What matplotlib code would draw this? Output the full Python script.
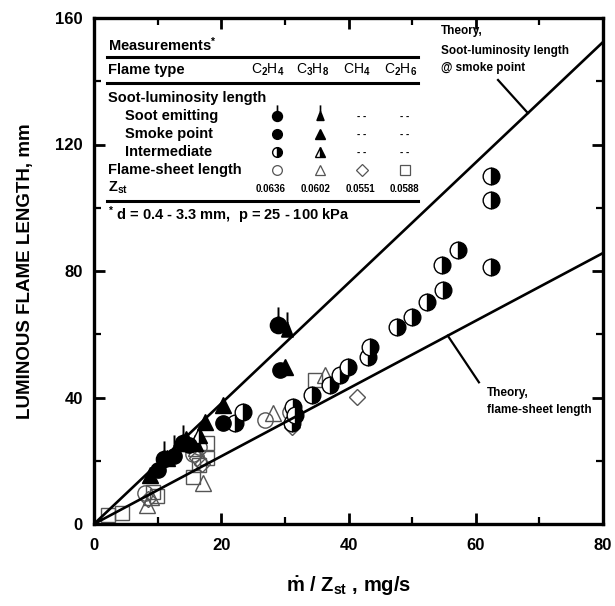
import numpy as np
import matplotlib
matplotlib.use('Agg')
import matplotlib.pyplot as plt
from matplotlib.path import Path
from matplotlib.ticker import MultipleLocator

plt.rcParams['font.family'] = ['Liberation Sans', 'DejaVu Sans']
plt.rcParams['font.weight'] = 'bold'
plt.rcParams['mathtext.fontset'] = 'custom'
plt.rcParams['mathtext.rm'] = 'Liberation Sans:bold'
plt.rcParams['mathtext.it'] = 'Liberation Sans:bold'
plt.rcParams['mathtext.bf'] = 'Liberation Sans:bold'
plt.rcParams['mathtext.sf'] = 'Liberation Sans:bold'
plt.rcParams['mathtext.default'] = 'rm'

# ---------------- data ----------------
theory_x = [0, 80]
slope_soot = 1.905      # soot-luminosity length @ smoke point
slope_sheet = 1.071     # flame-sheet length

c2h4_emit_x = [11.0, 14.0, 28.9]
c2h4_emit_y = [20.5, 25.5, 63.0]
c3h8_emit_x = [12.5, 30.3]
c3h8_emit_y = [22.5, 61.5]

c2h4_smoke_x = [10.0, 12.5, 15.0, 20.3, 29.2]
c2h4_smoke_y = [17.0, 21.5, 25.0, 32.0, 48.8]
c3h8_smoke_x = [8.8, 11.5, 14.5, 17.4, 20.3, 30.0]
c3h8_smoke_y = [15.5, 21.0, 27.0, 32.3, 37.6, 49.8]

c2h4_inter_x = [22.2, 23.4, 31.1, 31.3, 31.6, 34.3, 37.1, 38.7, 39.9, 43.1, 43.4,
                47.6, 50.0, 52.3, 54.7, 54.9, 57.2, 62.4, 62.4, 62.4]
c2h4_inter_y = [31.9, 35.4, 32.0, 37.0, 34.5, 40.8, 44.0, 47.1, 49.6, 52.8, 56.0,
                62.3, 65.5, 70.2, 81.9, 74.0, 86.6, 110.0, 102.5, 81.3]
c3h8_inter_x = [15.8, 16.5]
c3h8_inter_y = [25.5, 28.0]

c2h4_sheet_x = [8.0, 15.5, 16.5, 26.9, 30.8]
c2h4_sheet_y = [9.8, 22.0, 24.5, 33.0, 35.5]
c3h8_sheet_x = [8.3, 9.0, 16.0, 17.1, 28.2, 36.3]
c3h8_sheet_y = [6.0, 8.5, 24.0, 13.0, 35.0, 47.0]
ch4_sheet_x = [8.5, 16.2, 17.0, 31.1, 41.3]
ch4_sheet_y = [8.0, 21.0, 19.0, 30.7, 40.2]
c2h6_sheet_x = [2.2, 4.4, 9.3, 9.9, 15.6, 16.5, 17.8, 17.8, 34.7]
c2h6_sheet_y = [2.8, 3.5, 10.1, 9.0, 14.9, 18.5, 20.9, 25.6, 45.5]

fuels = ['C$_2$H$_4$', 'C$_3$H$_8$', 'CH$_4$', 'C$_2$H$_6$']
zst = ['0.0636', '0.0602', '0.0551', '0.0588']

# ---------------- markers ----------------
stem = Path([(0, 1.0), (0, 2.3)], [Path.MOVETO, Path.LINETO])
circ_stem = Path.make_compound_path(Path.unit_circle(), stem)
tri = Path([(0, 1.0), (-0.7, -0.8), (0.7, -0.8), (0, 1.0)],
           [Path.MOVETO, Path.LINETO, Path.LINETO, Path.CLOSEPOLY])
tri_stem = Path.make_compound_path(tri, stem)

fig = plt.figure(figsize=(6.15, 6.06), dpi=100)
ax = fig.add_axes([94/615, 1-524/606, 509/615, 506/606])

xx = np.array(theory_x, dtype=float)
ax.plot(xx, slope_soot*xx, color='black', lw=1.9, zorder=5)
ax.plot(xx, slope_sheet*xx, color='black', lw=1.9, zorder=5)

gray = '#555555'
ax.plot(c2h6_sheet_x, c2h6_sheet_y, ls='none', marker='s', ms=10, mfc='none', mec=gray, mew=1.0)
ax.plot(ch4_sheet_x, ch4_sheet_y, ls='none', marker='D', ms=8, mfc='none', mec=gray, mew=1.0)
ax.plot(c3h8_sheet_x, c3h8_sheet_y, ls='none', marker='^', ms=11, mfc='none', mec=gray, mew=1.0)
ax.plot(c2h4_sheet_x, c2h4_sheet_y, ls='none', marker='o', ms=11, mfc='none', mec=gray, mew=1.0)

ax.plot(c2h4_inter_x, c2h4_inter_y, ls='none', marker='o', ms=12, fillstyle='right',
        mfc='black', mfcalt='white', mec='black', mew=1.0)
ax.plot(c3h8_inter_x, c3h8_inter_y, ls='none', marker='^', ms=11, fillstyle='right',
        mfc='black', mfcalt='white', mec='black', mew=1.0)
ax.plot(c2h4_smoke_x, c2h4_smoke_y, ls='none', marker='o', ms=11, mfc='black', mec='black')
ax.plot(c3h8_smoke_x, c3h8_smoke_y, ls='none', marker='^', ms=11, mfc='black', mec='black')
ax.plot(c2h4_emit_x, c2h4_emit_y, ls='none', marker=circ_stem, ms=26, mfc='black', mec='black', mew=1.4)
ax.plot(c3h8_emit_x, c3h8_emit_y, ls='none', marker=tri_stem, ms=26, mfc='black', mec='black', mew=1.4)

ax.set_xlim(0, 80)
ax.set_ylim(0, 160)
ax.xaxis.set_major_locator(MultipleLocator(20))
ax.xaxis.set_minor_locator(MultipleLocator(10))
ax.yaxis.set_major_locator(MultipleLocator(40))
ax.yaxis.set_minor_locator(MultipleLocator(20))
ax.tick_params(which='both', direction='in', top=True, right=True, labelsize=12)
ax.tick_params(which='major', length=8, width=2)
ax.tick_params(which='minor', length=5, width=1.6)
ax.tick_params(axis='y', pad=8)
ax.tick_params(axis='x', pad=10)
for lab in ax.get_xticklabels() + ax.get_yticklabels():
    lab.set_fontweight('bold')
for s in ax.spines.values():
    s.set_linewidth(2.4)

ax.set_xlabel(r'$\dot{\mathrm{m}}$ / Z$_{\mathrm{st}}$ , mg/s', fontsize=14.5, fontweight='bold')
ax.set_ylabel('LUMINOUS FLAME LENGTH, mm', fontsize=13.5, fontweight='bold')
ax.xaxis.set_label_coords(0.5, -0.10)
ax.yaxis.set_label_coords(-0.118, 0.5)

# ---------------- annotations ----------------
ax.text(54.5, 156.0, 'Theory,', fontsize=8.5, fontweight='bold', va='center', ha='left')
ax.text(54.5, 149.5, 'Soot-luminosity length', fontsize=8.5, fontweight='bold', va='center', ha='left')
ax.text(54.5, 144.2, '@ smoke point', fontsize=8.5, fontweight='bold', va='center', ha='left')
xl = 68.2
ax.plot([63.5, xl], [140.4, slope_soot*xl], color='black', lw=1.6)

ax.text(61.8, 41.4, 'Theory,', fontsize=8.5, fontweight='bold', va='center', ha='left')
ax.text(61.8, 36.0, 'flame-sheet length', fontsize=8.5, fontweight='bold', va='center', ha='left')
xl2 = 55.6
ax.plot([xl2, 60.5], [slope_sheet*xl2, 44.8], color='black', lw=1.6)

# ---------------- legend table ----------------
T = ax.transAxes
def fx(px):
    return (px - 94) / 509
def fy(py):
    return (524 - py) / 506

for py in [57, 83, 201]:
    ax.plot([fx(107), fx(418)], [fy(py), fy(py)], transform=T, color='black', lw=2.2,
            clip_on=False)

fs = 10.5
ax.text(fx(108), fy(45), 'Measurements$^{*}$', transform=T, fontsize=fs, va='center')
ax.text(fx(108), fy(70), 'Flame type', transform=T, fontsize=fs, va='center')
ax.text(fx(108), fy(98), 'Soot-luminosity length', transform=T, fontsize=fs, va='center')
ax.text(fx(125), fy(116), 'Soot emitting', transform=T, fontsize=fs, va='center')
ax.text(fx(125), fy(134), 'Smoke point', transform=T, fontsize=fs, va='center')
ax.text(fx(125), fy(152), 'Intermediate', transform=T, fontsize=fs, va='center')
ax.text(fx(108), fy(170), 'Flame-sheet length', transform=T, fontsize=fs, va='center')
ax.text(fx(108), fy(188), 'Z$_{\\mathrm{st}}$', transform=T, fontsize=fs, va='center')
ax.text(fx(108), fy(215), '$^{*}$ d = 0.4 - 3.3 mm,  p = 25 - 100 kPa', transform=T,
        fontsize=fs, va='center')

col_hdr = [268, 313, 357, 401]
col_mk = [277, 320, 362, 405]
for cx, f, z in zip(col_hdr, fuels, zst):
    ax.text(fx(cx), fy(70), f, transform=T, fontsize=10, fontweight='normal', ha='center', va='center')
    ax.text(fx(cx + 3), fy(189), z, transform=T, fontsize=7, ha='center', va='center')

kw = dict(transform=T, ls='none', clip_on=False)
ax.plot([fx(col_mk[0])], [fy(116)], marker=circ_stem, ms=16, mfc='black', mec='black', mew=1.2, **kw)
ax.plot([fx(col_mk[1])], [fy(116)], marker=tri_stem, ms=16, mfc='black', mec='black', mew=1.2, **kw)
ax.plot([fx(col_mk[0])], [fy(134)], marker='o', ms=7, mfc='black', mec='black', **kw)
ax.plot([fx(col_mk[1])], [fy(134)], marker='^', ms=7, mfc='black', mec='black', **kw)
ax.plot([fx(col_mk[0])], [fy(152)], marker='o', ms=7, fillstyle='right', mfc='black',
        mfcalt='white', mec='black', mew=1.0, **kw)
ax.plot([fx(col_mk[1])], [fy(152)], marker='^', ms=7, fillstyle='right', mfc='black',
        mfcalt='white', mec='black', mew=1.0, **kw)
for cx in col_mk[2:]:
    for py in [116, 134, 152]:
        ax.text(fx(cx), fy(py), '- -', transform=T, fontsize=7, ha='center', va='center')
ax.plot([fx(col_mk[0])], [fy(170)], marker='o', ms=7, mfc='none', mec=gray, mew=0.9, **kw)
ax.plot([fx(col_mk[1])], [fy(170)], marker='^', ms=7, mfc='none', mec=gray, mew=0.9, **kw)
ax.plot([fx(col_mk[2])], [fy(170)], marker='D', ms=6, mfc='none', mec=gray, mew=0.9, **kw)
ax.plot([fx(col_mk[3])], [fy(170)], marker='s', ms=7, mfc='none', mec=gray, mew=0.9, **kw)

fig.savefig('out.png', dpi=100)
